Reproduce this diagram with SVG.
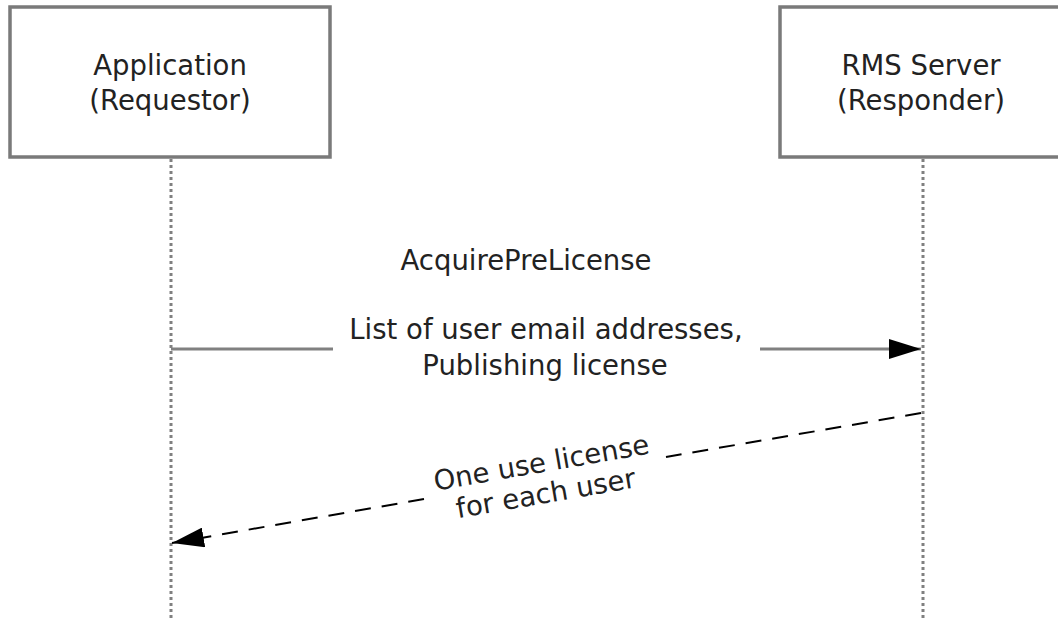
<svg xmlns="http://www.w3.org/2000/svg" width="1058" height="618" viewBox="0 0 1058 618">
<defs>
<style>
.box{fill:#fff;stroke:#7a7a7a;stroke-width:3.5}
.t{font-family:"DejaVu Sans",Verdana,sans-serif;font-size:27.5px;fill:#222;text-anchor:middle}
.life{stroke:#808080;stroke-width:3;stroke-dasharray:3 3;fill:none}
.msg{stroke:#808080;stroke-width:3;fill:none}
.ret{stroke:#000;stroke-width:2;stroke-dasharray:16 11;fill:none}
</style>
<marker id="ah2" viewBox="0 0 32 20" refX="32" refY="10" markerWidth="32" markerHeight="20" markerUnits="userSpaceOnUse" orient="auto">
<path d="M0,0 L32,10 L0,20 Z" fill="#000"/>
</marker>
</defs>
<rect width="1058" height="618" fill="#fff"/>
<g id="requestor">
<rect class="box" x="10" y="7" width="320" height="150"/>
<text class="t" x="170" y="75">Application</text>
<text class="t" x="170" y="110">(Requestor)</text>
</g>
<g id="responder">
<rect class="box" x="780" y="7" width="290" height="150"/>
<text class="t" x="921" y="75">RMS Server</text>
<text class="t" x="921" y="110">(Responder)</text>
</g>
<g id="connectors">
<line class="life" x1="171" y1="159" x2="171" y2="618"/>
<line class="life" x1="923" y1="159" x2="923" y2="618"/>
<line class="msg" x1="171" y1="349" x2="333" y2="349"/>
<line class="msg" x1="760" y1="349" x2="921" y2="349" marker-end="url(#ah2)"/>
<line class="ret" x1="921" y1="413" x2="666" y2="457"/>
<line class="ret" x1="424" y1="499" x2="172" y2="543" marker-end="url(#ah2)"/>
</g>
<g id="labels">
<text class="t" x="526" y="270">AcquirePreLicense</text>
<text class="t" x="546" y="339">List of user email addresses,</text>
<text class="t" x="545" y="375">Publishing license</text>
<g transform="translate(543,472) rotate(-9.85)">
<text class="t" x="0" y="0">One use license</text>
<text class="t" x="-1" y="31">for each user</text>
</g>
</g>
</svg>
